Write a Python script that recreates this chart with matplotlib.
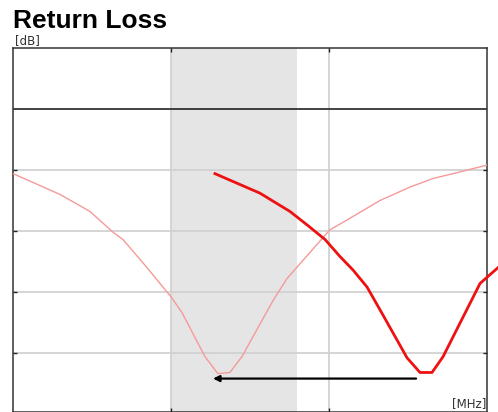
"""Return loss sweep: measured vs. reference antenna response."""

import matplotlib.pyplot as plt

# frequency axis [MHz] and return loss [dB]
freq_ref = [700, 729.7, 748.7, 763.3, 769.6, 784.8, 800.6, 807.0, 821.5, 829.7,
            837.3, 844.9, 864.6, 873.4, 900.6, 911.4, 932.3, 951.3, 965.8, 978.5, 1000]
rl_ref = [-10.3, -12.0, -13.4, -15.1, -15.7, -18.0, -20.5, -21.7, -25.3, -26.7,
          -26.6, -25.3, -20.7, -18.9, -14.9, -14.1, -12.5, -11.4, -10.7, -10.3, -9.6]

freq_meas = [827.8, 856.3, 875.3, 886.1, 897.5, 907.0, 915.2, 924.1, 934.2, 949.4,
             957.6, 965.2, 972.2, 995.6, 1007.0]
rl_meas = [-10.3, -11.9, -13.4, -14.5, -15.7, -17.1, -18.2, -19.6, -21.9, -25.4,
           -26.6, -26.6, -25.3, -19.3, -18.0]

band = (800, 880)          # shaded operating band
spec_limit = -5            # dark reference line
shift_from, shift_to, shift_level = 955.1, 826.6, -27.1

fig = plt.figure(figsize=(4.98, 4.12), dpi=100)
ax = fig.add_axes([13 / 498, 0, 474 / 498, 364 / 412])

ax.set_xlim(700, 1000)
ax.set_ylim(-29.84, 0)

ax.axvspan(*band, color="#e5e5e5", lw=0, zorder=0)
for y in [-10, -15, -20, -25]:
    ax.axhline(y, color="#d2d2d2", lw=1.3, zorder=1)
for x in [800, 900]:
    ax.axvline(x, color="#d2d2d2", lw=1.3, zorder=1)
ax.axhline(spec_limit, color="#222222", lw=1.2, zorder=2)

ax.plot(freq_ref, rl_ref, color="#f59a9a", lw=1.0, zorder=3)
ax.plot(freq_meas, rl_meas, color="#ee1111", lw=2.0, zorder=4, clip_on=False)

ax.annotate("", xy=(shift_to, shift_level), xytext=(shift_from, shift_level),
            arrowprops=dict(arrowstyle="-|>", color="black", lw=1.6,
                            mutation_scale=9, shrinkA=0, shrinkB=0), zorder=5)

ax.set_xticks([800, 900])
ax.set_yticks([-10, -15, -20, -25])
ax.tick_params(direction="in", length=3, width=1, top=True, right=True,
               labelbottom=False, labelleft=False, color="#222222")
for s in ax.spines.values():
    s.set_color("#333333")
    s.set_linewidth(1.1)

fig.text(13 / 498, 1 - 28 / 412, "Return Loss", fontsize=19, fontweight="bold",
         family="Liberation Sans", va="baseline", ha="left")
fig.text(15 / 498, 1 - 41 / 412, "[dB]", fontsize=8.5, color="#333333",
         va="center", ha="left")
ax.text(0.998, 0.005, "[MHz]", transform=ax.transAxes, fontsize=8.5,
        color="#333333", ha="right", va="bottom")

fig.savefig("out.png", dpi=100)
